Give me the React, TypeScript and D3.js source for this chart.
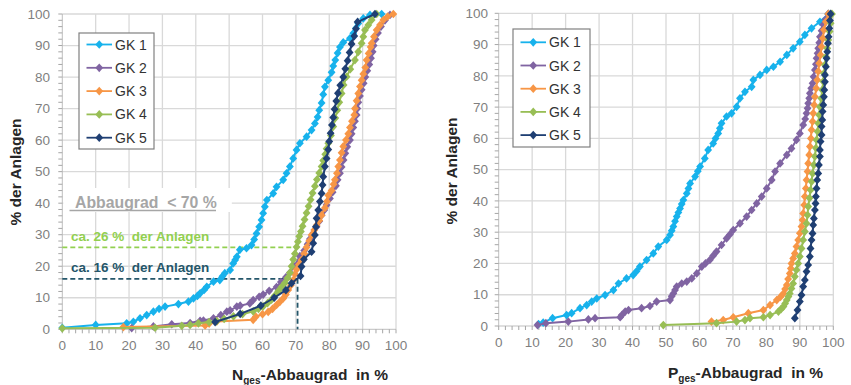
import React from "react";
import * as d3 from "d3";

type Pt = [number, number];

const W = 851;
const H = 385;

const seriesNames = ["GK 1", "GK 2", "GK 3", "GK 4", "GK 5"];
const seriesColors = ["#17B2EC", "#8064A2", "#F79646", "#98BE55", "#1F3F73"];
const tickValues = [0, 10, 20, 30, 40, 50, 60, 70, 80, 90, 100];
const minorTickValues = d3.range(0, 101, 2);

// Cumulative share of plants (%) over N removal rate (%)
const nGK1: Pt[] = [[0,0.5],[10,1.4],[19.3,1.9],[21.3,2.4],[23.3,3.5],[25.3,4.5],[27.3,5.6],[29,6.5],[30.8,7.2],[34.8,8],[37.8,8.8],[39.3,9.8],[40.5,10.6],[41.3,11.4],[42.5,12.5],[43.3,13.5],[45.3,15.1],[47.2,15.6],[48,16.8],[48.7,17.8],[50.3,18.8],[51.2,20.9],[51.8,22],[52.3,23],[53.2,25.2],[55.2,25.7],[56.7,26.7],[57.5,28.5],[58.2,30.4],[59,32.5],[59.7,34.7],[60.2,36.8],[60.7,38.9],[61.3,41],[63.2,43.1],[64.2,45.2],[66.2,47.4],[67.2,49.5],[68.2,51.6],[69.2,54.2],[70.2,56.9],[71.2,59],[73.2,61.1],[74.7,63.2],[75.7,65.3],[76.5,67.3],[77,69.5],[77.7,71.8],[78.2,74.5],[78.7,76.9],[79.7,79],[80.7,81.5],[81.2,83.5],[81.8,85.4],[82.5,87.6],[83.2,89.5],[84.2,91],[86.2,92.3],[87.2,93.9],[88,95.5],[88.7,97],[90.2,98.6],[92.2,99.7],[95.7,100]];
const nGK2: Pt[] = [[20.8,0.4],[27.3,0.9],[32.8,1.6],[38.3,2],[41.3,2.7],[42.3,2.8],[45.3,3.5],[47.5,4.5],[49.3,5.6],[50.3,6],[52.3,7.2],[53.3,7.5],[56.2,8.2],[57.2,9.3],[59,10.3],[60.2,11],[62,12.2],[64.2,13.4],[65.5,15],[67,16.5],[68.2,17.9],[69.5,20],[71.2,23.2],[72.5,25],[73.5,27],[74.2,28.6],[75.2,30.5],[76.2,32.5],[77,34.3],[77.7,36.2],[78.5,37.8],[79.2,39.4],[80.2,41.5],[81,43.5],[82,45.5],[82.5,47.4],[83.2,49.5],[83.7,51.5],[84.3,53.7],[84.8,55.8],[85.4,57.9],[86.2,60],[86.7,62],[87.2,64],[87.7,66],[88.2,68],[88.4,70],[88.7,72],[89.2,74],[89.7,76],[90.3,78],[90.8,80],[91.4,82],[92,84],[92.5,86],[93,88],[93.3,90],[93.9,92],[94.6,94],[95.5,96],[96.7,98],[98.2,99.7]];
const nGK3: Pt[] = [[18.3,0.7],[42.8,1.2],[44,1.8],[46.3,2.5],[57.2,3],[58,4],[60,4.8],[61.7,5.5],[63,6.5],[64.2,7.7],[65.2,8.7],[66.2,9.8],[67,11],[67.7,12.5],[68.5,14],[69.2,15.6],[69.7,17.5],[70.2,19],[70.9,20.5],[71.7,22],[72.5,24],[73.2,26],[74,28],[74.7,29.9],[75.5,31.5],[76.2,33],[77,34.5],[77.7,36.2],[78.7,38.5],[79.3,40.5],[79.7,42.5],[80.7,44],[81.3,46],[81.7,47.4],[82.3,49.5],[82.7,51.6],[83.2,53.7],[83.7,56],[84.2,58],[85,60],[85.7,62],[86.2,64],[86.8,66],[87.5,68],[87.7,70],[88.2,72.5],[88.7,74.8],[89.2,77],[89.7,79],[90.2,81],[90.8,83],[91.2,85.4],[91.8,87.5],[92.4,89.5],[92.7,90.7],[93.4,92.8],[94.2,94.9],[95.2,96.5],[96.2,98.1],[97.5,99.2],[99.2,100]];
const nGK4: Pt[] = [[0,0.3],[27.8,0.5],[35.8,1.1],[38.3,1.4],[40.8,1.9],[44,2.3],[46.3,2.6],[48.5,3.3],[51.3,4.1],[54,4.8],[57.2,5.7],[58.8,6.5],[60.2,7.3],[61.5,8.3],[62.7,9.4],[63.7,10.7],[64.7,12.1],[65.7,13.4],[66.7,14.7],[67.5,16.3],[68.2,17.9],[68.7,20],[69.2,22.1],[69.7,24],[70.2,26.1],[70.6,27.8],[71,29.5],[71.5,31],[72,32.7],[72.6,34.8],[73.2,36.9],[73.8,39],[74.4,41.1],[75,43.2],[75.7,45.4],[76.3,47.5],[77,49.6],[77.7,51.6],[78.2,53.5],[78.8,55.5],[79.2,57.3],[79.7,59],[80.5,61.5],[81.2,64.3],[81.8,67],[82.4,69.5],[83,72],[83.7,74.8],[84.3,77.5],[85.2,80.1],[86.3,82.5],[87.7,85.4],[88.7,88],[89.7,90.7],[90.2,92.8],[90.7,94.9],[91.7,96.5],[92.7,98.1],[94.2,100]];
const nGK5: Pt[] = [[45.8,2.3],[53.3,4.9],[59.5,7.5],[63.5,10],[67,12.4],[68.7,14.6],[71.4,16.9],[71.7,19.9],[72.4,22.2],[74.7,24.6],[75.2,27.3],[75.7,29.9],[76,32.5],[76.2,35.2],[76.7,37.8],[77.2,40.5],[77.7,43.1],[78,45.8],[78.2,48.4],[78.7,51.6],[79.2,54.2],[79.7,57],[80,59.6],[80.4,62.2],[80.8,64.8],[81.2,67.2],[81.6,69.8],[82.1,72.4],[82.6,74.9],[83.3,77.4],[84.2,80],[84.8,82.6],[85.5,85.2],[86.1,87.8],[86.7,90.5],[87.5,93],[88,95.3],[88.5,97.5],[93.7,100]];

// Cumulative share of plants (%) over P removal rate (%)
const pGK1: Pt[] = [[11.9,0.6],[13.3,1.1],[16.1,2.5],[20.3,3.5],[21.8,4.1],[24.3,5.7],[26.3,6.7],[27.8,7.8],[29.3,8.8],[31.8,9.9],[34.3,11.5],[35.8,13.6],[38.2,15.2],[40.2,16.3],[41.2,17.5],[42.2,19],[44.2,21.1],[46.2,23.2],[47.7,25.4],[50.2,27.5],[51.2,29.1],[51.7,30.5],[52.2,31.8],[52.7,33.5],[53.2,35],[53.7,36.3],[54.2,37.6],[54.7,39],[55.2,40.3],[56.2,42.4],[56.7,44],[57.2,45.6],[58.7,47.8],[59.5,49.5],[60.2,51],[61.6,53.6],[62.6,56.3],[64.1,58.4],[64.8,60],[65.6,61.6],[66.1,63.2],[66.6,64.8],[68.1,67],[69.6,68],[71.1,70.1],[72.1,72.8],[73.6,74.9],[75.6,76.5],[76.1,78.7],[78.1,80.3],[80.1,81.9],[82.1,82.9],[84.1,84.5],[86.1,86.7],[88,88.8],[90,90.9],[91.5,93.1],[93.5,95.2],[96,97.3],[98.5,99.8]];
const pGK2: Pt[] = [[11.6,0.3],[14.1,0.9],[20.8,1.4],[26.8,2.1],[28.8,2.5],[36.3,2.8],[36.8,3.5],[37.8,4.6],[38.8,5.1],[42.7,5.7],[45.2,6.4],[47.2,7.8],[51.2,8.3],[51.7,9.5],[52.2,10.4],[52.7,11.5],[53.2,12.6],[54.7,13.6],[56.2,14.2],[57.7,15.2],[59.2,16.8],[60.7,19],[61.8,20],[63.1,21.1],[64.1,22.5],[65.1,23.8],[66.6,25.9],[68.1,28],[69.1,29.3],[70.1,30.7],[72.1,32.8],[74.1,35],[75.6,37.1],[77.1,39.2],[78.6,41.4],[80.1,44],[81.6,46.7],[82.6,49.4],[84.1,52],[86.1,54.7],[87.5,56.8],[89,59.5],[90,61.6],[91,64.3],[91.6,66.2],[92,68],[92.3,69.6],[92.5,71.2],[92.8,72.8],[93,74.4],[93.4,76],[93.8,77.6],[94.1,79.7],[94.5,81.9],[94.8,83.7],[95,85.6],[95.3,87.2],[95.5,88.8],[95.8,90.6],[96,92.5],[96.5,94.4],[97,96.3],[97.7,98],[98.5,99.8]];
const pGK3: Pt[] = [[63.6,1.4],[67.1,1.9],[70.1,2.8],[74.6,4.1],[79.1,5.1],[81.1,6.7],[83.1,8.3],[84.2,9.3],[85.1,10.4],[85.6,11.8],[86.1,13.1],[86.5,15],[87,16.8],[87.3,18.4],[87.5,20],[88,21.6],[88.5,23.2],[89,25.4],[89.5,27.5],[90,29.7],[90.5,31.8],[90.8,33.9],[91,36],[91.3,38.7],[91.5,41.4],[91.8,44],[92,46.7],[92.3,49.4],[92.5,52],[92.8,54.7],[93,57.4],[93.3,60],[93.5,62.7],[93.8,65.4],[94,68],[94.3,70.7],[94.5,73.3],[94.9,76],[95.2,78.7],[95.5,81.4],[95.8,84],[96.2,86.7],[96.5,89.3],[96.9,92],[97.2,94.7],[97.8,97.3],[98.5,99.8]];
const pGK4: Pt[] = [[49.2,0.3],[65.1,0.9],[71.1,1.4],[73.6,1.9],[75.1,2.5],[79.1,2.8],[81.1,3.5],[83.6,4.6],[84.4,5.4],[85.1,6.2],[85.6,7.2],[86.1,8.3],[86.6,9.4],[87,10.4],[87.5,12],[88,13.6],[88.5,15.8],[89,17.9],[89.5,20],[90,22.2],[90.5,24.8],[91,27.5],[91.5,30.2],[92,32.8],[92.3,35.5],[92.5,38.2],[92.9,40.9],[93.2,43.5],[93.5,46.2],[93.8,48.8],[94.2,51.5],[94.5,54.2],[94.8,56.9],[95,59.5],[95.3,62.2],[95.5,64.8],[95.8,67.5],[96,70.1],[96.4,72.8],[96.7,75.5],[97,78.2],[97.2,80.8],[97.5,83.5],[97.8,86.1],[98.2,88.8],[98.5,91.5],[98.9,94.2],[99.2,96.8],[99.6,99.8]];
const pGK5: Pt[] = [[88.5,2.5],[89.3,5.1],[90,7.8],[90.5,9.9],[91,12.6],[91.5,14.7],[92,17.4],[92.5,19.5],[93,22.2],[93.2,24.8],[93.5,27.5],[93.8,29.6],[94,32.3],[94.2,34.4],[94.5,37.1],[94.7,39.2],[94.8,41.4],[95,44],[95.2,46.7],[95.5,48.8],[95.7,51.5],[96,54.2],[96,56.3],[96.2,59],[96.5,61.1],[96.5,63.8],[96.7,65.9],[96.8,68.6],[97,70.7],[97.2,73.3],[97.3,75.5],[97.5,78.1],[97.5,80.3],[97.8,82.9],[98,85.6],[98.2,87.7],[98.4,90.4],[98.6,92.5],[98.8,95.2],[99,97.7],[99.2,99.8]];

const nitrogenSeries = [nGK1, nGK2, nGK3, nGK4, nGK5];
const phosphorusSeries = [pGK1, pGK2, pGK3, pGK4, pGK5];

// Threshold markers on the N chart: share of plants below 70 % removal
const thresholdRate = 70;
const shareGK4 = 26;
const shareGK5 = 16;

const FONT = "'Liberation Sans', Arial, Helvetica, sans-serif";
const TICK_COLOR = "#7f7f7f";
const TITLE_COLOR = "#262626";
const GRID_COLOR = "#d9d9d9";

// Excel-style diamond (a square standing on its tip, slightly taller than wide)
const excelDiamond: d3.SymbolType = {
  draw(context, size) {
    const a = Math.sqrt(size / 1.8);
    const b = a * 0.9;
    context.moveTo(0, -a);
    context.lineTo(b, 0);
    context.lineTo(0, a);
    context.lineTo(-b, 0);
    context.closePath();
  },
};
const markerPath = d3.symbol(excelDiamond, 34)() as string;

type PanelProps = {
  series: Pt[][];
  x0: number;
  x1: number;
  yBottom: number;
  yTop: number;
  yLabelRight: number;
  xLabelY: number;
  xTitleX: number;
  xTitleY: number;
  yTitleX: number;
  yTitleY: number;
  titleLetter: string;
  legend: { x: number; y: number; w: number; h: number; firstY: number; step: number };
  withThreshold?: boolean;
};

function Panel(p: PanelProps) {
  const x = d3.scaleLinear().domain([0, 100]).range([p.x0, p.x1]);
  const y = d3.scaleLinear().domain([0, 100]).range([p.yBottom, p.yTop]);
  const line = d3
    .line<Pt>()
    .x((d) => x(d[0]))
    .y((d) => y(d[1]));

  return (
    <g>
      {/* grid */}
      {tickValues
        .filter((t) => t > 0)
        .map((t) => (
          <line key={"gx" + t} x1={x(t)} x2={x(t)} y1={y(0)} y2={y(100)} stroke={GRID_COLOR} strokeWidth={1.3} />
        ))}
      {tickValues
        .filter((t) => t > 0)
        .map((t) => (
          <line key={"gy" + t} x1={x(0)} x2={x(100)} y1={y(t)} y2={y(t)} stroke={GRID_COLOR} strokeWidth={1.3} />
        ))}

      {/* axes with minor ticks */}
      <line x1={x(0)} x2={x(0)} y1={y(0)} y2={y(100)} stroke="#bfbfbf" strokeWidth={1} />
      <line x1={x(0)} x2={x(100)} y1={y(0)} y2={y(0)} stroke="#bfbfbf" strokeWidth={1} />
      {minorTickValues.map((t) => (
        <line key={"my" + t} x1={x(0) - 4} x2={x(0)} y1={y(t)} y2={y(t)} stroke="#a6a6a6" strokeWidth={1} />
      ))}
      {minorTickValues.map((t) => (
        <line key={"mx" + t} x1={x(t)} x2={x(t)} y1={y(0)} y2={y(0) + 4} stroke="#a6a6a6" strokeWidth={1} />
      ))}

      {/* tick labels */}
      {tickValues.map((t) => (
        <text
          key={"ly" + t}
          x={p.yLabelRight}
          y={y(t)}
          dy="0.35em"
          textAnchor="end"
          fontFamily={FONT}
          fontSize={13.5}
          fill={TICK_COLOR}
        >
          {t}
        </text>
      ))}
      {tickValues.map((t) => (
        <text
          key={"lx" + t}
          x={x(t)}
          y={p.xLabelY}
          dy="0.35em"
          textAnchor="middle"
          fontFamily={FONT}
          fontSize={13.5}
          fill={TICK_COLOR}
        >
          {t}
        </text>
      ))}

      {/* axis titles */}
      <text
        x={p.xTitleX}
        y={p.xTitleY}
        textAnchor="middle"
        fontFamily={FONT}
        fontSize={15.5}
        fontWeight="bold"
        fill={TITLE_COLOR}
        style={{ whiteSpace: "pre" }}
      >
        {p.titleLetter}
        <tspan fontSize={10} dy={4}>
          ges
        </tspan>
        <tspan dy={-4}>{"-Abbaugrad  in %"}</tspan>
      </text>
      <text
        transform={`translate(${p.yTitleX},${p.yTitleY}) rotate(-90)`}
        textAnchor="middle"
        fontFamily={FONT}
        fontSize={15.5}
        fontWeight="bold"
        fill={TITLE_COLOR}
      >
        % der Anlagen
      </text>

      {/* threshold annotation */}
      {p.withThreshold && (
        <g>
          <rect x={x(0) + 1} y={188} width={x(50.5) - x(0)} height={24} fill="#ffffff" />
          <text
            x={75}
            y={207.5}
            fontFamily={FONT}
            fontSize={15.8}
            fontWeight="bold"
            fill="#a6a6a6"
            style={{ whiteSpace: "pre" }}
          >
            {"Abbaugrad  < 70 %"}
          </text>
          <line x1={69.5} x2={216} y1={210.5} y2={210.5} stroke="#a6a6a6" strokeWidth={1.3} />
          <line
            x1={x(0)}
            x2={x(thresholdRate + 0.2)}
            y1={y(shareGK4)}
            y2={y(shareGK4)}
            stroke="#92D050"
            strokeWidth={1.8}
            strokeDasharray="5,3"
          />
          <line
            x1={x(0)}
            x2={x(thresholdRate + 0.5)}
            y1={y(shareGK5)}
            y2={y(shareGK5)}
            stroke="#24566A"
            strokeWidth={1.8}
            strokeDasharray="5,3"
          />
          <line
            x1={x(thresholdRate + 0.5)}
            x2={x(thresholdRate + 0.5)}
            y1={y(shareGK5)}
            y2={y(0)}
            stroke="#24566A"
            strokeWidth={1.8}
            strokeDasharray="5,3"
          />
          <text
            x={71}
            y={241}
            fontFamily={FONT}
            fontSize={13.5}
            fontWeight="bold"
            fill="#92D050"
            style={{ whiteSpace: "pre" }}
          >
            {`ca. ${shareGK4} %  der Anlagen`}
          </text>
          <text
            x={71}
            y={272}
            fontFamily={FONT}
            fontSize={13.5}
            fontWeight="bold"
            fill="#24566A"
            style={{ whiteSpace: "pre" }}
          >
            {`ca. ${shareGK5} %  der Anlagen`}
          </text>
        </g>
      )}

      {/* series */}
      {p.series.map((data, i) => (
        <g key={"s" + i}>
          <path d={line(data) as string} fill="none" stroke={seriesColors[i]} strokeWidth={2} />
          {data.map((d, j) => (
            <path key={j} d={markerPath} transform={`translate(${x(d[0])},${y(d[1])})`} fill={seriesColors[i]} />
          ))}
        </g>
      ))}

      {/* legend */}
      <rect
        x={p.legend.x}
        y={p.legend.y}
        width={p.legend.w}
        height={p.legend.h}
        fill="#ffffff"
        stroke="#808080"
        strokeWidth={1.2}
      />
      {seriesNames.map((name, i) => {
        const ly = p.legend.firstY + i * p.legend.step;
        const lx0 = p.legend.x + 7.5;
        const lx1 = p.legend.x + 33;
        return (
          <g key={"lg" + i}>
            <line x1={lx0} x2={lx1} y1={ly} y2={ly} stroke={seriesColors[i]} strokeWidth={1.8} />
            <path d={markerPath} transform={`translate(${(lx0 + lx1) / 2},${ly})`} fill={seriesColors[i]} />
            <text x={p.legend.x + 36} y={ly} dy="0.36em" fontFamily={FONT} fontSize={14} fill="#333333">
              {name}
            </text>
          </g>
        );
      })}
    </g>
  );
}

export default function App() {
  return (
    <svg
      width={W}
      height={H}
      viewBox={`0 0 ${W} ${H}`}
      style={{ position: "absolute", left: 0, top: 0, display: "block", background: "#ffffff" }}
    >
      <rect x={0} y={0} width={W} height={H} fill="#ffffff" />
      <Panel
        series={nitrogenSeries}
        x0={62.3}
        x1={396}
        yBottom={329.3}
        yTop={14}
        yLabelRight={50}
        xLabelY={345.7}
        xTitleX={310}
        xTitleY={379.5}
        yTitleX={20.5}
        yTitleY={172}
        titleLetter="N"
        legend={{ x: 79, y: 33, w: 75, h: 116, firstY: 44.5, step: 23.3 }}
        withThreshold
      />
      <Panel
        series={phosphorusSeries}
        x0={498.7}
        x1={833.3}
        yBottom={326}
        yTop={13.3}
        yLabelRight={488}
        xLabelY={342}
        xTitleX={745.5}
        xTitleY={378}
        yTitleX={457}
        yTitleY={171}
        titleLetter="P"
        legend={{ x: 513, y: 29, w: 77, h: 118, firstY: 42.3, step: 23.2 }}
      />
    </svg>
  );
}
